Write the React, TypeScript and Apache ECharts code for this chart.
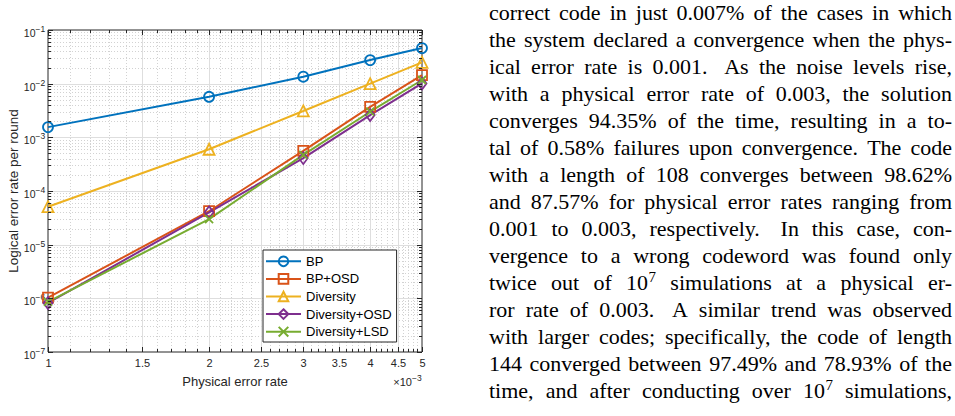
import React, { useEffect, useRef } from "react";
import * as echarts from "echarts";

// Physical error rates (x) and logical error rate per round for each decoder
const errorRates = [0.001, 0.002, 0.003, 0.004, 0.005];
const bpRates = [1.55e-3, 5.7e-3, 1.35e-2, 2.75e-2, 4.6e-2];
const bpOsdRates = [1.03e-6, 4.2e-5, 5.6e-4, 3.7e-3, 1.44e-2];
const diversityRates = [5.1e-5, 6.0e-4, 3.1e-3, 1.0e-2, 2.5e-2];
const diversityOsdRates = [8.2e-7, 4.0e-5, 4.1e-4, 2.6e-3, 1.01e-2];
const diversityLsdRates = [8.6e-7, 3.0e-5, 4.7e-4, 3.0e-3, 1.17e-2];

const seriesNames = ["BP", "BP+OSD", "Diversity", "Diversity+OSD", "Diversity+LSD"];

// Axis ticks (x in units of 1e-3)
const xMajorTicks = [1, 1.5, 2, 2.5, 3, 3.5, 4, 4.5, 5];
const xTickLabels = ["1", "1.5", "2", "2.5", "3", "3.5", "4", "4.5", "5"];
const yDecades = [-7, -6, -5, -4, -3, -2, -1];

// Body text beside the figure (one entry per typeset line, ^ marks a superscript)
const paragraphLines = [
  "correct code in just 0.007% of the cases in which",
  "the system declared a convergence when the phys-",
  "ical error rate is 0.001.  As the noise levels rise,",
  "with a physical error rate of 0.003, the solution",
  "converges 94.35% of the time, resulting in a to-",
  "tal of 0.58% failures upon convergence. The code",
  "with a length of 108 converges between 98.62%",
  "and 87.57% for physical error rates ranging from",
  "0.001 to 0.003, respectively.  In this case, con-",
  "vergence to a wrong codeword was found only",
  "twice out of 10^7 simulations at a physical er-",
  "ror rate of 0.003.  A similar trend was observed",
  "with larger codes; specifically, the code of length",
  "144 converged between 97.49% and 78.93% of the",
  "time, and after conducting over 10^7 simulations,",
];

const COLORS = ["#0072BD", "#D95319", "#EDB120", "#7E2F8E", "#77AC30"];
const AX = "#262626";
const SANS = '"Liberation Sans"';
const SERIF = '"Liberation Serif"';

const GRID = { left: 48, top: 30, width: 374, height: 322 };

const TEXT_X0 = 489;
const TEXT_X1 = 952;
const TEXT_BASE0 = 20;
const TEXT_STEP = 27;
const TEXT_SIZE = 22;
const SUP_SIZE = 15;

function makeSeries(name: string, values: number[], idx: number, symbol: string, size: number | number[]) {
  const c = COLORS[idx];
  return {
    type: "line",
    name,
    data: errorRates.map((x, i) => [x, values[i]]),
    symbol,
    symbolSize: size,
    showAllSymbol: true,
    lineStyle: { color: c, width: 2 },
    itemStyle: { color: "none", borderColor: c, borderWidth: 1.8 },
    emphasis: { disabled: true },
    z: 3,
  };
}

function crisp(v: number) {
  return Math.round(v) + 0.5;
}

function txt(x: number, y: number, text: string, size: number, family: string, fill: string, align: string, extra: any = {}) {
  return {
    type: "text",
    silent: true,
    x,
    y,
    ...extra,
    style: { text, font: `${size}px ${family}`, fill, align, verticalAlign: "middle" },
  };
}

// plain left/top anchored body-text run
function bodyText(x: number, top: number, text: string, size: number) {
  return {
    type: "text",
    x,
    y: top,
    style: { text, font: `${size}px ${SERIF}`, fill: "#000" },
  };
}

function buildAxesGraphic(chart: echarts.ECharts) {
  const px = (x: number, y: number) => chart.convertToPixel({ gridIndex: 0 }, [x, y]) as number[];
  const [xL, yBot] = px(0.001, 1e-7);
  const [xR, yTop] = px(0.005, 1e-1);
  const els: any[] = [];
  const line = (x1: number, y1: number, x2: number, y2: number, style: any, z = 1) =>
    els.push({ type: "line", silent: true, z, shape: { x1, y1, x2, y2 }, style });
  const majorGrid = { stroke: "#dedede", lineWidth: 1 };
  const minorGrid = { stroke: "#d2d2d2", lineWidth: 1, lineDash: [1, 2] };
  const tick = { stroke: AX, lineWidth: 1 };

  // x minor grid and ticks (every 0.1e-3)
  for (let k = 11; k < 50; k++) {
    if (k % 5 === 0) continue;
    const X = crisp(px((k / 10) * 1e-3, 1e-4)[0]);
    line(X, yTop, X, yBot, minorGrid, 0);
    line(X, yBot, X, yBot - 3, tick, 5);
    line(X, yTop, X, yTop + 3, tick, 5);
  }
  // x major grid, ticks, labels
  xMajorTicks.forEach((m, i) => {
    const X = crisp(px(m * 1e-3, 1e-4)[0]);
    if (i > 0 && i < xMajorTicks.length - 1) line(X, yTop, X, yBot, majorGrid, 0);
    line(X, yBot, X, yBot - 5, tick, 5);
    line(X, yTop, X, yTop + 5, tick, 5);
    els.push(txt(X, yBot + 11, xTickLabels[i], 11, SANS, AX, "center"));
  });
  // x exponent
  els.push(txt(xR - 10, yBot + 30, "\u00d710", 11, SANS, AX, "right"));
  els.push(txt(xR - 10, yBot + 25.5, "\u22123", 8.5, SANS, AX, "left"));

  // y minor grid and ticks
  yDecades.slice(0, -1).forEach((d) => {
    for (let m = 2; m <= 9; m++) {
      const Y = crisp(px(0.001, m * Math.pow(10, d))[1]);
      line(xL, Y, xR, Y, minorGrid, 0);
      line(xL, Y, xL + 3, Y, tick, 5);
      line(xR, Y, xR - 3, Y, tick, 5);
    }
  });
  // y major grid, ticks, labels
  yDecades.forEach((d, i) => {
    const Y = crisp(px(0.001, Math.pow(10, d))[1]);
    if (i > 0 && i < yDecades.length - 1) line(xL, Y, xR, Y, majorGrid, 0);
    line(xL, Y, xL + 5, Y, tick, 5);
    line(xR, Y, xR - 5, Y, tick, 5);
    els.push(txt(xL - 12.5, Y + 2.5, "10", 10.5, SANS, AX, "right"));
    els.push(txt(xL - 12.5, Y - 1.5, "\u2212" + String(-d), 8.5, SANS, AX, "left"));
  });

  // axis titles
  els.push(txt((xL + xR) / 2, yBot + 29, "Physical error rate", 13, SANS, AX, "center"));
  els.push(txt(13, (yTop + yBot) / 2, "Logical error rate per round", 13.5, SANS, AX, "center", { rotation: Math.PI / 2 }));
  return els;
}

function buildParagraph() {
  const els: any[] = [];
  const ctx = document.createElement("canvas").getContext("2d")!;
  const measure = (s: string, size: number) => {
    ctx.font = `${size}px ${SERIF}`;
    return ctx.measureText(s).width;
  };
  const avail = TEXT_X1 - TEXT_X0;
  const size = TEXT_SIZE;
  const supSize = SUP_SIZE;

  const wordWidth = (w: string) => {
    const [base, sup] = w.split("^");
    return measure(base, size) + (sup ? measure(sup, supSize) + 0.5 : 0);
  };
  // top of the text box sits this far above the alphabetic baseline
  const topOffset = (s: number) => s * 0.8375;

  paragraphLines.forEach((lineText, li) => {
    const parts = lineText.split(" ");
    const words: string[] = [];
    const weights: number[] = [];
    let pending = 1;
    parts.forEach((p) => {
      if (p === "") {
        pending += 0.6;
        return;
      }
      if (words.length) weights.push(pending);
      words.push(p);
      pending = 1;
    });
    const widths = words.map(wordWidth);
    const total = widths.reduce((a, b) => a + b, 0);
    const wsum = weights.reduce((a, b) => a + b, 0);
    const unit = wsum > 0 ? (avail - total) / wsum : 0;
    const baseline = TEXT_BASE0 + TEXT_STEP * li;
    let x = TEXT_X0;
    words.forEach((w, wi) => {
      const [base, sup] = w.split("^");
      els.push(bodyText(x, baseline - topOffset(size), base, size));
      if (sup) {
        const supBase = baseline - size * 0.38;
        els.push(bodyText(x + measure(base, size) + 0.5, supBase - topOffset(supSize), sup, supSize));
      }
      x += widths[wi] + (wi < weights.length ? weights[wi] * unit : 0);
    });
  });
  return els;
}

export default function App() {
  const ref = useRef<HTMLDivElement>(null);

  useEffect(() => {
    const el = ref.current;
    if (!el) return;
    const chart = echarts.init(el, null, { renderer: "svg" });
    chart.setOption({
      animation: false,
      backgroundColor: "#fff",
      textStyle: { fontFamily: "Liberation Sans" },
      grid: { ...GRID, show: true, borderColor: AX, borderWidth: 1, backgroundColor: "transparent" },
      xAxis: {
        type: "log",
        logBase: 10,
        min: 0.001,
        max: 0.005,
        axisLine: { show: false },
        axisTick: { show: false },
        axisLabel: { show: false },
        splitLine: { show: false },
        minorTick: { show: false },
      },
      yAxis: {
        type: "log",
        logBase: 10,
        min: 1e-7,
        max: 1e-1,
        axisLine: { show: false },
        axisTick: { show: false },
        axisLabel: { show: false },
        splitLine: { show: false },
        minorTick: { show: false },
      },
      legend: {
        orient: "vertical",
        left: 263,
        top: 250,
        itemWidth: 35,
        itemHeight: 12,
        itemGap: 3,
        padding: [4, 5, 3, 2],
        borderColor: AX,
        borderWidth: 1,
        backgroundColor: "#fff",
        selectedMode: false,
        textStyle: { fontFamily: "Liberation Sans", fontSize: 13, color: "#000" },
        data: seriesNames,
      },
      series: [
        makeSeries(seriesNames[0], bpRates, 0, "circle", 10),
        makeSeries(seriesNames[1], bpOsdRates, 1, "rect", 10),
        makeSeries(seriesNames[2], diversityRates, 2, "triangle", 11),
        makeSeries(seriesNames[3], diversityOsdRates, 3, "diamond", [9, 12]),
        makeSeries(seriesNames[4], diversityLsdRates, 4, "path://M0,0L10,10M10,0L0,10", 8),
      ],
    });
    chart.setOption({ graphic: { elements: [...buildAxesGraphic(chart), ...buildParagraph()] } });
    return () => chart.dispose();
  }, []);

  return (
    <div
      ref={ref}
      style={{ position: "fixed", left: 0, top: 0, width: 955, height: 416, background: "#fff" }}
    />
  );
}
